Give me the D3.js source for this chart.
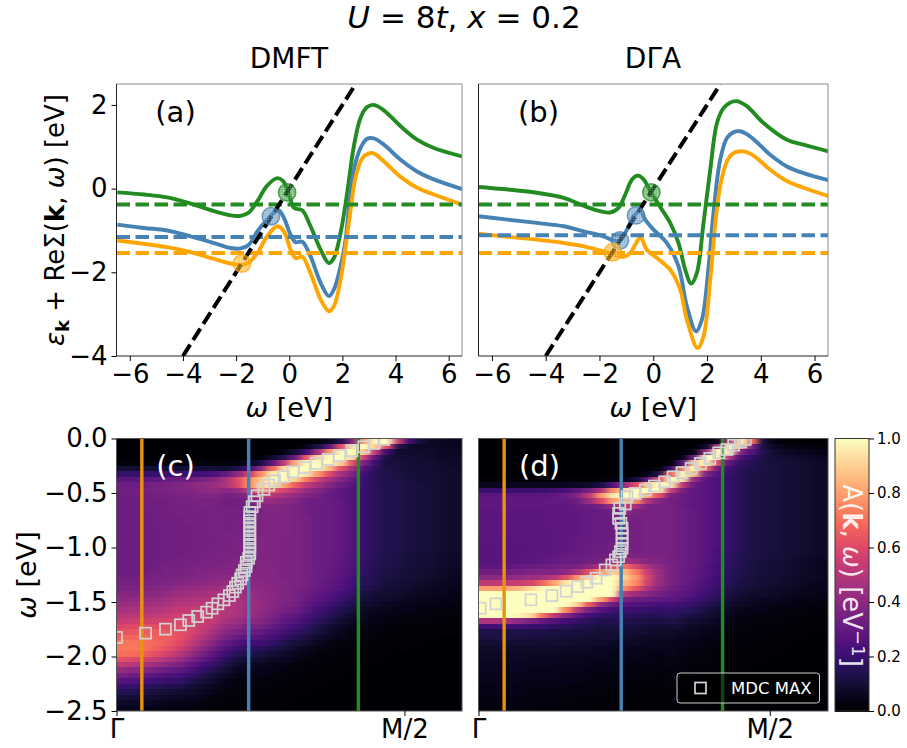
<!DOCTYPE html>
<html>
<head>
<meta charset="utf-8">
<script src="https://cdn.jsdelivr.net/npm/d3@7"></script>
<style>
html, body { margin: 0; padding: 0; background: #fff; }
svg { display: block; }
text { font-family: "DejaVu Sans", sans-serif; fill: #000; }
</style>
</head>
<body>
<script>
// Re(sigma) curves, panel (a): omega, green, blue, orange
var curveGreenA = [[-6.47,-0.09],[-5.46,-0.14],[-4.59,-0.21],[-3.71,-0.36],[-2.83,-0.54],[-2.21,-0.64],[-1.83,-0.65],[-1.52,-0.57],[-1.20,-0.30],[-0.83,0.07],[-0.45,0.25],[-0.23,0.18],[-0.01,-0.14],[0.18,-0.46],[0.49,-0.52],[0.80,-0.90],[1.18,-1.46],[1.49,-1.78],[1.68,-1.66],[1.93,-1.06],[2.18,-0.10],[2.43,1.01],[2.68,1.69],[2.93,1.95],[3.18,2.00],[3.56,1.87],[4.19,1.49],[4.81,1.17],[5.44,0.97],[6.5,0.77]];
var curveBlueA = [[-6.47,-0.86],[-5.46,-0.94],[-4.59,-1.00],[-3.71,-1.14],[-2.83,-1.30],[-2.21,-1.42],[-1.83,-1.43],[-1.52,-1.34],[-1.20,-1.02],[-0.83,-0.74],[-0.51,-0.54],[-0.39,-0.52],[-0.20,-0.70],[0.05,-1.10],[0.24,-1.28],[0.49,-1.27],[0.80,-1.62],[1.18,-2.25],[1.49,-2.57],[1.68,-2.41],[1.93,-1.86],[2.12,-1.22],[2.25,-0.42],[2.43,0.45],[2.68,0.97],[2.93,1.19],[3.18,1.20],[3.56,1.05],[4.19,0.69],[4.81,0.41],[5.44,0.22],[6.5,-0.01]];
var curveOrangeA = [[-6.47,-1.24],[-5.46,-1.32],[-4.59,-1.40],[-3.71,-1.52],[-2.83,-1.68],[-2.21,-1.79],[-1.83,-1.83],[-1.52,-1.76],[-1.20,-1.54],[-0.83,-1.14],[-0.45,-0.90],[-0.20,-1.02],[0.05,-1.46],[0.24,-1.66],[0.49,-1.63],[0.80,-2.02],[1.18,-2.65],[1.49,-2.93],[1.68,-2.81],[1.93,-2.18],[2.12,-1.38],[2.31,-0.50],[2.50,0.29],[2.75,0.73],[3.00,0.84],[3.18,0.84],[3.56,0.65],[4.19,0.28],[4.81,0.02],[5.44,-0.14],[6.5,-0.38]];
// panel (b)
var curveGreenB = [[-6.5,0.04],[-5.57,-0.01],[-4.33,-0.10],[-3.33,-0.22],[-2.59,-0.41],[-1.97,-0.54],[-1.6,-0.57],[-1.29,-0.46],[-1.04,-0.14],[-0.79,0.22],[-0.57,0.31],[-0.36,0.22],[-0.11,-0.06],[0.2,-0.38],[0.63,-0.82],[0.94,-1.30],[1.19,-1.94],[1.41,-2.27],[1.62,-2.02],[1.87,-0.82],[2.12,0.45],[2.37,1.57],[2.62,1.93],[2.87,2.06],[3.11,2.09],[3.48,1.97],[4.1,1.57],[4.97,1.17],[5.59,1.05],[6.52,0.89]];
var curveBlueB = [[-6.5,-0.66],[-5.57,-0.73],[-4.33,-0.82],[-3.33,-0.90],[-2.59,-1.02],[-1.85,-1.14],[-1.47,-1.24],[-1.23,-1.24],[-0.98,-0.98],[-0.73,-0.66],[-0.48,-0.54],[-0.3,-0.74],[0.01,-0.98],[0.51,-1.30],[0.94,-1.86],[1.25,-2.81],[1.59,-3.41],[1.81,-3.13],[2.06,-1.86],[2.24,-0.58],[2.49,0.69],[2.74,1.21],[2.99,1.35],[3.23,1.37],[3.6,1.25],[4.35,0.81],[4.97,0.53],[5.59,0.37],[6.52,0.20]];
var curveOrangeB = [[-6.5,-1.08],[-5.57,-1.14],[-4.33,-1.22],[-3.33,-1.30],[-2.59,-1.38],[-1.85,-1.50],[-1.47,-1.58],[-1.1,-1.63],[-0.86,-1.54],[-0.67,-1.34],[-0.48,-1.16],[-0.24,-1.46],[0.14,-1.66],[0.63,-1.94],[1.0,-2.41],[1.25,-3.13],[1.65,-3.81],[1.87,-3.53],[2.12,-2.18],[2.31,-0.82],[2.49,0.06],[2.74,0.65],[2.99,0.85],[3.36,0.89],[3.73,0.79],[4.35,0.45],[4.97,0.18],[5.59,0.02],[6.52,-0.18]];

var levelsA = [-0.38, -1.155, -1.54];
var levelsB = [-0.38, -1.115, -1.54];
var seriesColors = ["#228b22", "#4682b4", "#ffa500"];

// [omega, value, colour index]
var crossingsA = [[-0.08,-0.09,0],[-0.69,-0.66,1],[-1.78,-1.79,2]];
var crossingsB = [[-0.07,-0.09,0],[-0.64,-0.64,1],[-1.24,-1.24,1],[-1.5,-1.52,2]];

// k cuts drawn as vertical lines in (c) and (d)
var cutsC = [0.088, 0.459, 0.84];
var cutsD = [0.088, 0.490, 0.838];
var cutColors = ["#e8930c", "#4682b4", "#228b22"];

// MDC maxima
var mdcKC = [0,0.101,0.170,0.222,0.251,0.282,0.313,0.332,0.352,0.373,0.392,0.404,0.413,0.421,0.431,0.436,0.444,0.450,0.451,0.459,0.463,0.463,0.463,0.463,0.463,0.463,0.463,0.463,0.463,0.463,0.463,0.471,0.479,0.488,0.512,0.529,0.549,0.581,0.613,0.653,0.694,0.735,0.775,0.818,0.859,0.894,0.928];
var mdcWC = [-1.825,-1.786,-1.749,-1.709,-1.670,-1.633,-1.593,-1.557,-1.517,-1.480,-1.441,-1.404,-1.364,-1.328,-1.288,-1.252,-1.212,-1.175,-1.135,-1.099,-1.059,-1.023,-0.983,-0.946,-0.907,-0.870,-0.830,-0.794,-0.754,-0.717,-0.678,-0.626,-0.580,-0.525,-0.467,-0.427,-0.388,-0.351,-0.305,-0.266,-0.229,-0.192,-0.156,-0.113,-0.076,-0.046,-0.009];
var mdcKD = [0.006,0.060,0.180,0.252,0.301,0.341,0.372,0.404,0.435,0.458,0.470,0.481,0.487,0.493,0.493,0.493,0.493,0.493,0.489,0.481,0.481,0.485,0.504,0.510,0.538,0.573,0.604,0.639,0.668,0.699,0.730,0.762,0.794,0.825,0.853,0.876,0.899,0.916];
var mdcWD = [-1.557,-1.517,-1.480,-1.441,-1.401,-1.358,-1.319,-1.282,-1.206,-1.160,-1.114,-1.084,-1.038,-1.007,-0.962,-0.916,-0.870,-0.824,-0.778,-0.733,-0.687,-0.641,-0.601,-0.534,-0.504,-0.473,-0.436,-0.397,-0.351,-0.314,-0.275,-0.229,-0.183,-0.131,-0.101,-0.061,-0.031,-0.009];

// A(k,w) x 100, one array per k column, top row is w = 0
var spectrumC = [
[0,0,0,0,2,10,19,27,32,33,32,32,32,32,32,32,32,32,32,32,32,32,32,31,32,33,34,35,38,40,43,46,50,54,59,63,67,71,72,70,62,52,42,34,26,20,15,11,8,5],
[0,0,0,0,2,10,19,27,32,33,33,32,32,32,32,32,32,32,32,32,32,32,32,32,32,33,34,36,38,41,44,47,51,55,60,64,68,71,72,69,60,50,40,32,25,19,14,10,7,5],
[0,0,0,0,2,10,19,28,33,34,33,33,33,32,32,32,32,32,32,32,32,32,32,32,33,34,35,37,39,42,45,48,52,56,61,65,68,70,70,66,57,47,38,30,23,17,13,9,7,4],
[0,0,0,0,2,10,19,29,34,35,34,33,33,33,33,33,32,32,32,32,32,32,33,33,34,35,36,38,40,43,46,49,53,57,61,65,67,68,66,61,53,43,34,27,21,15,11,8,6,4],
[0,0,0,0,2,10,20,30,35,36,34,33,33,33,33,33,33,33,33,33,33,33,33,34,35,36,37,39,42,45,48,51,55,58,61,64,65,65,62,56,48,39,31,24,19,14,10,7,5,3],
[0,0,0,0,2,10,20,32,37,37,35,34,34,34,33,33,33,33,33,33,33,33,34,34,35,36,38,41,44,47,50,53,56,59,61,62,62,60,56,50,43,36,29,23,18,13,9,7,5,3],
[0,0,0,0,2,10,21,33,39,38,36,35,34,34,34,34,33,33,33,33,33,34,34,35,36,37,39,42,45,48,51,54,56,58,58,58,56,53,48,42,36,29,24,19,14,10,8,6,4,3],
[0,0,0,0,2,10,22,35,41,40,37,35,35,34,34,34,34,34,34,34,34,34,35,36,37,38,40,43,46,49,52,54,55,55,54,52,49,45,40,34,29,23,18,14,11,8,6,4,3,2],
[0,0,0,0,2,10,24,38,43,41,38,36,35,35,35,35,35,34,34,34,35,35,36,36,38,39,41,44,47,50,52,53,53,52,49,46,42,37,32,27,22,18,14,10,8,6,4,3,2,2],
[0,0,0,0,2,10,30,47,48,39,34,33,33,34,34,34,34,35,35,35,35,36,36,37,38,40,42,45,47,49,50,50,49,46,43,39,35,30,25,21,16,13,10,7,5,4,3,2,2,1],
[0,0,0,0,3,14,40,60,58,42,35,33,33,34,34,35,35,35,35,36,36,36,37,37,38,40,42,44,46,47,48,48,47,44,40,35,30,25,20,15,11,8,6,4,3,3,2,2,1,1],
[0,0,0,1,6,22,55,76,76,52,38,34,33,33,34,34,34,35,35,35,36,36,36,37,38,39,40,42,43,44,44,44,43,40,36,32,27,22,17,13,9,7,5,4,3,2,2,1,1,1],
[0,0,0,2,12,38,75,88,90,80,55,42,38,36,36,36,36,36,37,37,37,37,37,38,38,38,39,40,41,41,42,41,40,38,34,30,26,21,16,12,9,6,5,4,3,2,2,1,1,1],
[0,0,1,8,28,68,95,100,95,65,50,42,38,37,37,37,37,37,37,37,37,37,37,37,38,38,38,39,39,39,39,38,36,33,30,26,22,18,14,10,7,5,4,3,2,2,1,1,1,1],
[0,0,4,15,52,92,100,100,82,58,46,40,37,37,37,37,37,37,36,36,36,36,36,36,36,36,37,37,37,37,36,34,32,29,26,22,18,14,11,8,6,4,3,2,2,1,1,1,1,0],
[0,1,10,32,82,100,100,90,66,50,42,38,36,36,36,36,36,36,36,36,36,36,36,36,36,36,36,36,35,35,34,32,29,26,22,18,15,11,8,6,4,3,2,2,1,1,1,1,0,0],
[0,5,22,65,100,100,95,72,52,42,37,33,33,33,34,34,34,34,34,34,34,34,34,34,34,34,34,33,32,31,29,27,24,21,18,15,12,9,6,5,3,2,2,1,1,1,1,0,0,0],
[3,12,45,92,100,100,78,56,45,38,34,32,32,32,32,32,32,32,32,32,32,32,32,32,32,32,31,30,29,27,25,22,19,16,13,11,8,6,4,3,2,2,1,1,1,1,0,0,0,0],
[6,28,78,100,100,85,60,46,38,33,30,31,31,31,31,31,31,31,31,31,31,31,31,31,30,30,29,28,26,24,21,18,15,13,10,8,6,4,3,2,2,1,1,1,1,0,0,0,0,0],
[15,62,100,100,90,62,46,38,32,28,28,29,29,29,29,29,29,29,29,29,29,29,28,28,28,27,26,25,23,20,17,14,12,9,7,5,4,3,2,2,1,1,1,1,0,0,0,0,0,0],
[38,95,100,92,62,46,36,30,27,25,25,26,26,26,26,26,26,26,26,26,26,25,25,25,24,23,22,20,18,15,13,11,8,6,5,4,3,2,2,1,1,1,1,0,0,0,0,0,0,0],
[80,100,88,55,35,26,22,20,19,19,19,19,19,19,19,19,19,19,19,19,19,18,18,18,17,16,15,14,12,10,9,7,6,5,4,3,2,2,1,1,1,1,0,0,0,0,0,0,0,0],
[100,90,50,28,20,17,15,15,16,16,16,16,16,16,16,16,16,16,16,16,16,15,15,15,14,14,13,12,10,9,7,6,5,4,3,2,2,1,1,1,1,0,0,0,0,0,0,0,0,0],
[100,60,20,12,11,12,13,14,14,14,14,14,14,14,14,14,14,14,14,14,14,13,13,13,12,12,11,10,9,8,6,5,4,3,2,2,1,1,1,1,0,0,0,0,0,0,0,0,0,0],
[55,15,8,10,11,11,12,12,13,13,13,13,13,13,13,13,13,13,13,13,13,12,12,12,11,11,10,9,8,7,5,4,3,3,2,1,1,1,1,0,0,0,0,0,0,0,0,0,0,0],
[20,8,8,9,10,10,11,11,12,12,12,12,12,12,12,12,12,12,12,12,12,11,11,11,10,10,9,8,7,6,5,4,3,2,2,1,1,1,1,0,0,0,0,0,0,0,0,0,0,0],
[10,7,8,9,9,10,10,10,11,11,11,11,11,11,11,11,11,11,11,11,11,10,10,10,9,9,8,7,6,5,4,3,3,2,1,1,1,1,0,0,0,0,0,0,0,0,0,0,0,0],
[7,7,8,8,9,9,9,10,10,10,10,10,10,10,10,10,10,10,10,10,10,9,9,9,8,8,7,6,6,5,4,3,2,2,1,1,1,0,0,0,0,0,0,0,0,0,0,0,0,0],
[6,6,7,7,8,8,9,9,9,9,9,9,9,9,9,9,9,9,9,9,9,8,8,8,7,7,6,6,5,4,3,3,2,1,1,1,0,0,0,0,0,0,0,0,0,0,0,0,0,0],
[5,6,6,7,7,8,8,8,8,8,8,8,8,8,8,8,8,8,8,8,8,7,7,7,7,6,6,5,4,4,3,2,2,1,1,1,0,0,0,0,0,0,0,0,0,0,0,0,0,0]
];
var spectrumD = [
[0,0,0,0,0,0,0,1,6,20,28,29,29,28,28,28,28,28,27,27,27,27,27,29,33,40,52,80,100,100,100,100,100,48,22,13,12,10,8,7,7,6,6,5,5,4,4,3,3,3],
[0,0,0,0,0,0,0,1,6,20,28,29,29,28,28,28,28,28,27,27,27,27,27,29,33,40,52,80,100,100,100,100,100,48,22,13,12,10,8,7,7,6,6,5,5,4,4,3,3,3],
[0,0,0,0,0,0,0,1,6,20,28,29,29,28,28,28,28,28,27,27,27,27,27,29,33,41,53,82,100,100,100,100,100,46,22,13,12,10,8,7,7,6,6,5,5,4,4,3,3,3],
[0,0,0,0,0,0,0,1,6,20,28,29,29,28,28,28,28,28,27,27,27,27,27,30,34,42,55,85,100,100,100,100,98,40,21,13,12,10,8,7,7,6,6,5,5,4,4,3,3,3],
[0,0,0,0,0,0,0,1,6,20,28,29,29,28,28,28,28,28,27,27,27,27,28,31,36,44,58,92,100,100,100,100,92,35,20,13,11,10,8,7,6,6,5,5,4,4,3,3,3,2],
[0,0,0,0,0,0,0,1,6,20,28,29,29,28,28,28,28,28,28,28,28,28,29,32,37,46,68,100,100,100,100,100,70,30,19,13,11,9,8,7,6,6,5,5,4,4,3,3,3,2],
[0,0,0,0,0,0,0,1,6,22,29,30,29,29,29,29,28,28,28,28,28,29,30,33,37,50,80,100,100,100,100,100,52,25,17,12,11,9,8,7,6,6,5,5,4,4,3,3,3,2],
[0,0,0,0,0,0,0,1,6,24,32,30,29,29,29,29,29,29,29,29,29,30,31,34,40,62,95,100,100,100,100,75,38,22,16,12,10,9,7,6,6,5,5,4,4,3,3,3,2,2],
[0,0,0,0,0,0,0,1,7,28,38,33,30,29,29,29,29,29,30,30,30,31,32,35,48,78,100,100,100,100,90,50,28,18,14,11,10,8,7,6,6,5,5,4,4,3,3,2,2,2],
[0,0,0,0,0,0,0,1,8,35,52,42,32,30,30,30,30,30,30,31,31,32,33,40,62,92,100,100,100,100,65,35,22,16,13,11,9,8,7,6,5,5,4,4,3,3,3,2,2,2],
[0,0,0,0,0,0,0,2,12,48,78,60,34,31,31,31,31,31,31,32,32,33,35,48,78,100,100,100,100,80,42,26,18,14,12,10,9,8,6,6,5,4,4,3,3,3,2,2,2,2],
[0,0,0,0,0,0,0,3,25,75,95,80,42,33,32,32,32,32,32,33,33,33,40,62,90,100,100,100,100,58,32,22,17,14,12,10,9,7,6,5,5,4,4,3,3,2,2,2,2,1],
[0,0,0,0,0,0,0,5,42,92,100,85,55,42,36,34,33,33,33,33,34,36,46,70,85,90,85,75,50,35,27,21,17,14,12,10,8,7,6,5,4,4,3,3,2,2,2,2,1,1],
[0,0,0,0,0,0,1,10,60,100,100,75,45,36,34,34,34,34,34,34,34,36,42,58,72,78,75,62,44,32,25,20,16,13,11,9,8,7,5,5,4,3,3,3,2,2,2,1,1,1],
[0,0,0,0,0,0,4,30,90,100,80,48,35,35,35,35,35,35,35,35,35,36,38,47,54,58,56,47,38,30,24,19,15,12,10,9,7,6,5,4,4,3,3,2,2,2,1,1,1,1],
[0,0,0,0,0,2,14,62,100,100,62,38,34,35,35,35,35,35,35,35,35,36,37,40,43,44,43,39,34,29,23,18,15,12,10,8,7,6,5,4,3,3,2,2,2,2,1,1,1,1],
[0,0,0,0,3,20,68,100,95,55,35,33,34,34,34,34,34,34,34,34,34,34,34,35,35,35,35,33,30,28,23,19,16,13,10,8,7,6,5,5,4,4,3,3,3,2,2,2,2,1],
[0,0,0,5,25,75,100,95,52,34,31,31,31,32,32,32,32,32,32,32,32,32,32,32,32,32,31,30,28,25,21,17,14,11,9,7,6,5,4,4,3,3,3,2,2,2,2,1,1,1],
[0,0,6,32,88,100,85,42,31,29,29,29,29,30,30,30,30,30,30,30,30,30,30,30,29,29,28,27,25,22,18,15,12,9,7,6,5,4,4,3,3,2,2,2,2,1,1,1,1,1],
[0,8,42,100,100,68,36,28,27,27,27,27,27,27,27,27,27,27,27,27,27,27,27,26,26,25,24,23,21,18,15,12,10,8,6,5,4,3,3,3,2,2,2,1,1,1,1,1,1,0],
[6,45,100,100,62,32,26,24,24,24,24,24,24,24,24,24,24,24,24,24,23,23,23,22,22,21,20,19,17,15,12,10,8,6,5,4,3,3,2,2,2,1,1,1,1,1,1,0,0,0],
[50,100,95,50,28,22,20,18,18,18,18,18,18,18,18,18,18,18,18,18,18,18,17,17,16,16,15,13,12,10,8,7,5,4,3,3,2,2,2,1,1,1,1,1,1,0,0,0,0,0],
[100,85,38,24,18,16,15,15,15,15,15,15,15,15,15,15,15,15,15,15,15,14,14,14,13,13,12,11,10,8,7,5,4,3,3,2,2,2,1,1,1,1,1,0,0,0,0,0,0,0],
[70,35,25,18,15,14,13,13,13,13,13,13,13,13,13,13,13,13,13,13,13,13,12,12,12,11,11,10,8,7,6,4,3,3,2,2,2,1,1,1,1,1,0,0,0,0,0,0,0,0],
[10,12,14,12,12,12,12,12,12,12,12,12,12,12,12,12,12,12,12,12,12,12,11,11,11,10,10,9,8,6,5,4,3,2,2,2,1,1,1,1,1,0,0,0,0,0,0,0,0,0],
[2,6,9,10,11,11,11,11,11,11,11,11,11,11,11,11,11,11,11,11,11,11,10,10,10,9,9,8,7,6,4,3,3,2,2,1,1,1,1,1,0,0,0,0,0,0,0,0,0,0],
[1,4,7,9,10,10,10,10,10,10,10,10,10,10,10,10,10,10,10,10,10,10,9,9,9,8,8,7,6,5,4,3,2,2,1,1,1,1,0,0,0,0,0,0,0,0,0,0,0,0],
[1,3,6,8,9,9,9,9,9,9,9,9,9,9,9,9,9,9,9,9,9,9,8,8,8,7,7,6,5,4,3,3,2,1,1,1,1,0,0,0,0,0,0,0,0,0,0,0,0,0],
[0,2,5,7,8,8,8,8,8,8,8,8,8,8,8,8,8,8,8,8,8,8,7,7,7,7,6,5,5,4,3,2,2,1,1,1,0,0,0,0,0,0,0,0,0,0,0,0,0,0],
[0,2,4,6,7,7,7,7,7,7,7,7,7,7,7,7,7,7,7,7,7,7,6,6,6,6,5,5,4,3,3,2,1,1,1,0,0,0,0,0,0,0,0,0,0,0,0,0,0,0]
];

var omegaTicks = [-6,-4,-2,0,2,4,6];
var reSigmaTicks = [-4,-2,0,2];
var bindingTicks = [0,-0.5,-1,-1.5,-2,-2.5];
var colorbarTicks = [0,0.2,0.4,0.6,0.8,1];

var width = 907, height = 748;
var svg = d3.select("body").append("svg").attr("width", width).attr("height", height);
var defs = svg.append("defs");
var minus = function(s) { return String(s).replace("-", "\u2212"); };

var color = d3.scaleSequential(d3.interpolateMagma).domain([0, 100]).clamp(true);

var blur = defs.append("filter").attr("id", "smooth")
  .attr("filterUnits", "userSpaceOnUse")
  .attr("x", -40).attr("y", -40).attr("width", 440).attr("height", 360)
  .attr("color-interpolation-filters", "sRGB");
blur.append("feGaussianBlur").attr("stdDeviation", "3.5 0.7");

seriesColors.forEach(function(c, i) {
  var p = defs.append("pattern").attr("id", "dots" + i).attr("patternUnits", "userSpaceOnUse")
    .attr("width", 2.4).attr("height", 2.4);
  p.append("rect").attr("width", 2.4).attr("height", 2.4).attr("fill", c).attr("opacity", 0.55);
  p.append("circle").attr("cx", 1.2).attr("cy", 1.2).attr("r", 0.6).attr("fill", "#fff").attr("opacity", 0.5);
});

var topY = 84, topH = 272, botY = 438.5, botH = 272.5;

function spines(g, w, h) {
  g.append("path").attr("d", "M0,0H" + w + "V" + h).attr("fill", "none").attr("stroke", "#8a8a8a").attr("stroke-width", 1);
  g.append("path").attr("d", "M0,0V" + h + "H" + w).attr("fill", "none").attr("stroke", "#222").attr("stroke-width", 1);
}

function curvePanel(left, w, curves, levels, crossings, showY, name, clip) {
  var g = svg.append("g").attr("transform", "translate(" + left + "," + topY + ")");
  var x = d3.scaleLinear().domain([-6.5, 6.5]).range([0, w]);
  var y = d3.scaleLinear().domain([-4, 2.5]).range([topH, 0]);
  defs.append("clipPath").attr("id", clip).append("rect").attr("width", w).attr("height", topH);
  var plot = g.append("g").attr("clip-path", "url(#" + clip + ")");
  var line = d3.line().x(function(d) { return x(d[0]); }).y(function(d) { return y(d[1]); }).curve(d3.curveCatmullRom.alpha(0.5));

  curves.forEach(function(c, i) {
    plot.append("path").attr("d", line(c)).attr("fill", "none")
      .attr("stroke", seriesColors[i]).attr("stroke-width", 3.9);
  });
  levels.forEach(function(v, i) {
    plot.append("line").attr("x1", 0).attr("x2", w).attr("y1", y(v)).attr("y2", y(v))
      .attr("stroke", seriesColors[i]).attr("stroke-width", 3.9).attr("stroke-dasharray", "13.5,5.5");
  });
  plot.append("line").attr("x1", x(-4)).attr("y1", y(-4)).attr("x2", x(2.5)).attr("y2", y(2.5))
    .attr("stroke", "#000").attr("stroke-width", 4).attr("stroke-dasharray", "13.5,5.5");
  plot.selectAll("circle").data(crossings).enter().append("circle")
    .attr("cx", function(d) { return x(d[0]); })
    .attr("cy", function(d) { return y(d[1]); })
    .attr("r", 8.7)
    .attr("fill", function(d) { return "url(#dots" + d[2] + ")"; })
    .attr("stroke", function(d) { return seriesColors[d[2]]; })
    .attr("stroke-opacity", 0.75).attr("stroke-width", 1.5);

  spines(g, w, topH);
  var ax = g.append("g").attr("transform", "translate(0," + topH + ")")
    .call(d3.axisBottom(x).tickValues(omegaTicks).tickSize(5).tickPadding(4).tickFormat(minus));
  ax.select(".domain").remove();
  ax.selectAll("text").style("font-size", "26px");
  if (showY) {
    var ay = g.append("g").call(d3.axisLeft(y).tickValues(reSigmaTicks).tickSize(5).tickPadding(4).tickFormat(minus));
    ay.select(".domain").remove();
    ay.selectAll("text").style("font-size", "26px");
  }
  g.append("text").attr("x", w / 2).attr("y", 333).attr("text-anchor", "middle").style("font-size", "27px")
    .html('<tspan font-style="italic">\u03c9</tspan> [eV]');
  g.append("text").attr("x", name[1]).attr("y", 38).attr("text-anchor", "middle").style("font-size", "29px").text(name[0]);
}

function mapPanel(left, w, spectrum, cuts, mdcK, mdcW, showY, name, clip) {
  var g = svg.append("g").attr("transform", "translate(" + left + "," + botY + ")");
  var x = d3.scaleLinear().domain([0, 1.2]).range([0, w]);
  var y = d3.scaleLinear().domain([-2.5, 0]).range([botH, 0]);
  var colBand = d3.scaleBand().domain(d3.range(spectrum.length)).range([0, w]);
  var rowBand = d3.scaleBand().domain(d3.range(spectrum[0].length)).range([0, botH]);
  var cells = [];
  spectrum.forEach(function(col, j) {
    col.forEach(function(v, r) { cells.push({ j: j, r: r, v: v }); });
  });
  defs.append("clipPath").attr("id", clip).append("rect").attr("width", w).attr("height", botH);
  var plot = g.append("g").attr("clip-path", "url(#" + clip + ")");
  plot.append("rect").attr("width", w).attr("height", botH).attr("fill", color(0));
  // first and last columns run past the clip so the blur does not fade at the edge
  plot.append("g").attr("filter", "url(#smooth)").attr("shape-rendering", "crispEdges")
    .selectAll("rect").data(cells).enter().append("rect")
    .attr("x", function(d) { return d.j == 0 ? -30 : colBand(d.j); })
    .attr("y", function(d) { return d.r == 0 ? -6 : rowBand(d.r); })
    .attr("width", function(d) { return colBand.bandwidth() + (d.j == 0 || d.j == spectrum.length - 1 ? 30 : 0) + 0.5; })
    .attr("height", function(d) { return rowBand.bandwidth() + (d.r == 0 ? 6 : 0) + 0.5; })
    .attr("fill", function(d) { return color(d.v); });

  cuts.forEach(function(k, i) {
    plot.append("line").attr("x1", x(k)).attr("x2", x(k)).attr("y1", 0).attr("y2", botH)
      .attr("stroke", cutColors[i]).attr("stroke-width", 3.4);
  });
  plot.selectAll("rect.mdc").data(mdcK).enter().append("rect").attr("class", "mdc")
    .attr("x", function(d) { return x(d) - 5.5; })
    .attr("y", function(d, i) { return y(mdcW[i]) - 5.5; })
    .attr("width", 11).attr("height", 11)
    .attr("fill", "none").attr("stroke", "#d3d3d3").attr("stroke-width", 1.7);

  g.append("rect").attr("width", w).attr("height", botH).attr("fill", "none").attr("stroke", "#555").attr("stroke-width", 1);

  var ax = g.append("g").attr("transform", "translate(0," + botH + ")")
    .call(d3.axisBottom(x).tickValues([0, 1]).tickSize(5).tickPadding(4).tickFormat(function(d) { return d == 0 ? "\u0393" : "M/2"; }));
  ax.select(".domain").remove();
  ax.selectAll("text").style("font-size", "26px");
  if (showY) {
    var ay = g.append("g").call(d3.axisLeft(y).tickValues(bindingTicks).tickSize(5).tickPadding(4)
      .tickFormat(function(d) { return minus(d3.format(".1f")(d == 0 ? 0 : d)); }));
    ay.select(".domain").remove();
    ay.selectAll("text").style("font-size", "26px");
  }
  g.append("text").attr("x", name[1]).attr("y", 37).attr("text-anchor", "middle").style("font-size", "29px").style("fill", "#fff").text(name[0]);
  return g;
}

curvePanel(116.5, 345.5, [curveGreenA, curveBlueA, curveOrangeA], levelsA, crossingsA, true, ["(a)", 59], "clipA");
curvePanel(478.5, 349.5, [curveGreenB, curveBlueB, curveOrangeB], levelsB, crossingsB, false, ["(b)", 60], "clipB");
mapPanel(116.5, 345.5, spectrumC, cutsC, mdcKC, mdcWC, true, ["(c)", 59], "clipC");
var panelD = mapPanel(478.5, 349.5, spectrumD, cutsD, mdcKD, mdcWD, false, ["(d)", 61], "clipD");

// legend of (d)
var legend = panelD.append("g").attr("transform", "translate(198.5,234.5)");
legend.append("rect").attr("width", 142.5).attr("height", 30).attr("rx", 3)
  .attr("fill", "#000").attr("fill-opacity", 0.5).attr("stroke", "#ccc").attr("stroke-width", 1);
legend.append("rect").attr("x", 18).attr("y", 9.5).attr("width", 11).attr("height", 11)
  .attr("fill", "none").attr("stroke", "#d3d3d3").attr("stroke-width", 1.7);
legend.append("text").attr("x", 54).attr("y", 20.5).style("font-size", "16.5px").style("fill", "#fff").text("MDC MAX");

// colorbar
var cb = svg.append("g").attr("transform", "translate(835," + botY + ")");
var cbH = botH, cbW = 34;
var cbY = d3.scaleLinear().domain([0, 1]).range([cbH, 0]);
cb.append("g").attr("shape-rendering", "crispEdges").selectAll("rect").data(d3.range(0, 1, 0.005)).enter().append("rect")
  .attr("y", function(d) { return cbY(d + 0.005); })
  .attr("width", cbW).attr("height", cbY(0) - cbY(0.005) + 0.5)
  .attr("fill", function(d) { return color(d * 100); });
cb.append("rect").attr("width", cbW).attr("height", cbH).attr("fill", "none").attr("stroke", "#333").attr("stroke-width", 1);
var cbAxis = cb.append("g").attr("transform", "translate(" + cbW + ",0)")
  .call(d3.axisRight(cbY).tickValues(colorbarTicks).tickSize(5).tickPadding(3).tickFormat(d3.format(".1f")));
cbAxis.select(".domain").remove();
cbAxis.selectAll("text").style("font-size", "15px");
cb.append("text").attr("transform", "translate(8," + 137 + ") rotate(90)").attr("text-anchor", "middle")
  .style("font-size", "26px").style("fill", "#fff").style("fill-opacity", 0.9)
  .html('A(<tspan font-weight="bold">k</tspan>, <tspan font-style="italic">\u03c9</tspan>) [eV<tspan dy="-9" font-size="18">\u22121</tspan><tspan dy="9">]</tspan>');

// titles and shared labels
svg.append("text").attr("x", 464).attr("y", 28).attr("text-anchor", "middle").style("font-size", "31px")
  .html('<tspan font-style="italic">U</tspan> = 8<tspan font-style="italic">t</tspan>, <tspan font-style="italic">x</tspan> = 0.2');
svg.append("text").attr("x", 289).attr("y", 68).attr("text-anchor", "middle").style("font-size", "28px").text("DMFT");
svg.append("text").attr("x", 653).attr("y", 68).attr("text-anchor", "middle").style("font-size", "28px").text("D\u0393A");
svg.append("text").attr("transform", "translate(64,220) rotate(-90)").attr("text-anchor", "middle").style("font-size", "26px")
  .html('<tspan font-style="italic">\u03b5</tspan><tspan font-weight="bold" font-size="18" dy="5">k</tspan><tspan dy="-5"> + Re\u03a3(</tspan><tspan font-weight="bold">k</tspan>, <tspan font-style="italic">\u03c9</tspan>) [eV]');
svg.append("text").attr("transform", "translate(36,575) rotate(-90)").attr("text-anchor", "middle").style("font-size", "27px")
  .html('<tspan font-style="italic">\u03c9</tspan> [eV]');
</script>
</body>
</html>
